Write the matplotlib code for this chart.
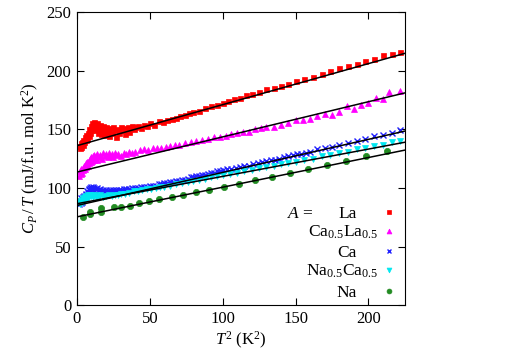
import numpy as np
import matplotlib
matplotlib.use("Agg")
import matplotlib.pyplot as plt

plt.rcParams['font.family'] = ['Liberation Serif', 'DejaVu Serif']
plt.rcParams['mathtext.fontset'] = 'custom'
plt.rcParams['mathtext.rm'] = 'Liberation Serif'
plt.rcParams['mathtext.it'] = 'Liberation Serif:italic'
plt.rcParams['font.size'] = 12

# ---- data: T^2 (K^2) and Cp/T (mJ/f.u. mol K^2) ----
la_x = [1.5, 2, 2.5, 3, 3.5, 4, 4.5, 5, 5.5, 6, 6.5, 7, 7.5, 8, 8.5, 9, 9.5, 10, 10.5, 11,
        11.5, 12, 12.5, 13, 13.5, 14, 14.5, 15, 15.5, 16, 16.5, 17, 17.5, 18, 18.5, 19, 19.5, 20,
        21, 22, 23, 24, 25, 26, 27, 28, 29, 30, 31, 32, 33, 34, 35, 36, 37, 38, 39, 40,
        42, 44, 46, 48, 50, 53, 56, 59, 62, 65, 68, 71, 74, 77, 80, 84, 88, 92,
        96, 100, 104, 108, 112, 116, 120, 125, 130, 135, 140, 145, 150, 156, 162, 168,
        174, 180, 186, 192, 198, 204, 210, 216, 222]
la_y = [136, 134, 138, 135, 139, 137, 141, 139, 143, 141, 145, 142, 147, 144, 150, 147, 153, 149, 155, 151,
        156, 152, 154, 149, 155, 151, 147, 153, 149, 154, 146, 151, 148, 153, 145, 150, 147, 152,
        148, 144, 151, 147, 152, 149, 143, 150, 147, 152, 149, 151, 146, 150, 152, 148, 151, 153, 150, 152,
        153, 151, 154, 153, 155, 154, 157, 156, 158, 159, 160, 161, 162, 164, 165, 166, 168, 170,
        171, 172, 174, 176, 177, 179, 180, 182, 184, 185, 187, 189, 191, 193, 195, 197,
        200, 202, 204, 206, 208, 210, 213, 214, 216]

cala_x = [1.5, 2, 2.5, 3, 3.5, 4, 4.5, 5, 5.5, 6, 6.5, 7, 7.5, 8, 8.5, 9, 9.5, 10, 10.5, 11,
          11.5, 12, 12.5, 13, 13.5, 14, 15, 16, 17, 18, 19, 20, 21, 22, 23, 24, 25, 26, 27, 28,
          30, 32, 34, 36, 38, 40, 43, 46, 49, 52, 55, 58, 61, 64, 67, 70, 74, 78,
          82, 86, 90, 94, 98, 102, 106, 110, 114, 118, 122, 126, 130, 135, 140, 145, 150, 155,
          160, 165, 170, 175, 180, 185, 190, 195, 200, 205, 210, 214, 222]
cala_y = [110, 114, 112, 116, 113, 117, 115, 119, 116, 121, 118, 122, 119, 123, 121, 125, 122, 126, 123, 127,
          124, 128, 125, 127, 124, 129, 126, 128, 125, 130, 127, 129, 126, 130, 127, 129, 126, 130, 128, 129,
          127, 130, 129, 131, 130, 131, 132, 133, 132, 134, 134, 134, 135, 136, 137, 137, 138, 139,
          140, 141, 142, 143, 143, 144, 146, 147, 148, 148, 150, 151, 152, 152, 154, 155, 158, 158,
          159, 161, 163, 162, 165, 170, 167, 171, 172, 177, 176, 182, 183]

ca_x = [1.5, 2, 2.5, 3, 3.5, 4, 4.5, 5, 5.5, 6, 6.5, 7, 7.5, 8, 8.5, 9, 9.5, 10, 10.5, 11, 11.5,
        12, 13, 14, 15, 16, 17, 18, 19, 20, 21, 22, 23, 24, 25, 26, 27, 28, 29, 30, 32,
        34, 36, 38, 40, 42, 44, 46, 48, 50, 52, 54, 56, 58, 60, 62, 64, 66, 68, 70, 72,
        74, 76, 78, 80, 82, 84, 86, 88, 90, 92, 94, 96, 98, 100, 103, 106, 109, 112, 115, 118,
        121, 124, 127, 130, 133, 136, 139, 142, 145, 148, 151, 154, 157, 160, 165, 170, 175, 180,
        186, 192, 198, 204, 210, 216, 222]
ca_y = [86, 89, 87, 91, 88, 92, 90, 93, 91, 94, 95, 97, 96, 99, 98, 100, 99, 101, 99, 101, 98,
        100, 99, 100, 98, 99, 97, 98, 97, 98, 96, 97, 98, 97, 98, 97, 98, 97, 98, 98, 99,
        99, 99, 100, 100, 100, 101, 101, 101, 102, 102, 102, 103, 103, 104, 104, 105, 105, 106, 106, 107,
        107, 108, 109, 109, 110, 110, 111, 111, 112, 113, 113, 114, 114, 115, 116, 116, 117, 118, 119, 119,
        120, 121, 122, 123, 124, 124, 125, 126, 127, 128, 129, 129, 130, 131, 133, 134, 135, 137,
        138, 140, 142, 144, 145, 147, 149]

naca_x = [1.5, 2, 2.5, 3, 3.5, 4, 4.5, 5, 5.5, 6, 6.5, 7, 7.5, 8, 9, 10, 11, 12, 13, 14, 15,
          16, 18, 20, 22, 24, 26, 28, 30, 33, 36, 39, 42, 45, 48, 51, 54, 57, 60, 64, 68,
          72, 76, 80, 84, 88, 92, 96, 100, 105, 110, 115, 120, 125, 130, 135, 140, 145, 150,
          156, 162, 168, 174, 180, 186, 192, 198, 204, 210, 216, 222]
naca_y = [88, 86, 89, 87, 90, 88, 91, 89, 92, 90, 93, 91, 94, 92, 94, 93, 92, 94, 92, 93, 92,
          94, 92, 93, 94, 93, 94, 94, 95, 95, 96, 97, 97, 98, 99, 99, 100, 101, 101, 102, 103,
          104, 105, 106, 107, 108, 109, 110, 111, 112, 113, 114, 115, 117, 118, 119, 120, 121, 122,
          124, 125, 127, 128, 130, 131, 133, 134, 136, 137, 139, 140]

na_x = [3.9, 9.2, 9.2, 16.5, 16.5, 25.2, 30.2, 36.4, 42.4, 49.7, 56.6, 65.1, 72.6, 81.8,
        90.9, 101, 111.5, 122.3, 133.8, 145.9, 158.5, 171.6, 184.9, 198.6, 212.8]
na_y = [74.8, 79.6, 77.6, 82.5, 79.6, 83.3, 83.9, 84.5, 86.8, 88.7, 90.4, 92.1, 94.1, 96.4,
        98.1, 100.6, 103.2, 106.7, 109.0, 112.9, 116.0, 119.7, 123.1, 127.1, 131.1]

# linear fits gamma + beta*T^2
fit_gamma = [136, 113.5, 85, 86.5, 75.3]
fit_beta = [0.35, 0.30, 0.282, 0.233, 0.253]

labels = ['La', r'Ca$_{0.5}$La$_{0.5}$', 'Ca', r'Na$_{0.5}$Ca$_{0.5}$', 'Na']
colors = ['#ff0000', '#ff00ff', '#2020ff', '#00e8f0', '#228b22']
markers = ['s', '^', 'x', 'v', 'o']
sizes = [3.6, 4.5, 4.0, 4.2, 4.5]
series = [(la_x, la_y), (cala_x, cala_y), (ca_x, ca_y), (naca_x, naca_y), (na_x, na_y)]

fig = plt.figure(figsize=(5.06, 3.54), dpi=100)
ax = fig.add_axes([0.152, 0.138, 0.648, 0.828])

xfit = np.array([0, 225])
for (x, y), c, m, s in zip(series, colors, markers, sizes):
    ax.plot(x, y, linestyle='none', marker=m, color=c, markersize=s,
            markeredgewidth=1.0 if m == 'x' else 0.5, zorder=2)
for g, b in zip(fit_gamma, fit_beta):
    ax.plot(xfit, g + b * xfit, color='black', lw=1.1, zorder=3)

ax.set_xlim(0, 225)
ax.set_ylim(0, 250)
ax.set_xticks([0, 50, 100, 150, 200])
ax.set_yticks([0, 50, 100, 150, 200, 250])
ax.tick_params(direction='in', length=5, top=True, right=True, labelsize=12, pad=4)
ax.set_xlabel(r'$T^2$ (K$^2$)', fontsize=12, labelpad=2)
ax.set_ylabel(r'$C_P\,/\,T$ (mJ/f.u. mol K$^2$)', fontsize=12, labelpad=4)

# legend, gnuplot style: right-justified text, symbol at right
row_y = [0.317, 0.253, 0.184, 0.119, 0.048]
text_x = [0.854, 0.918, 0.854, 0.918, 0.854]
for lab, c, m, ry, tx in zip(labels, colors, markers, row_y, text_x):
    ax.text(tx, ry - 0.019, lab, transform=ax.transAxes, ha='right', va='baseline', fontsize=12.5)
    ax.plot([0.951], [ry], transform=ax.transAxes, linestyle='none', marker=m, color=c,
            markersize=3.5, markeredgewidth=1.0 if m == 'x' else 0.5, clip_on=False)
ax.text(0.640, row_y[0] - 0.019, r'$A$ =', transform=ax.transAxes, ha='left', va='baseline',
        fontsize=12.5)

fig.savefig('out.png', dpi=100)
